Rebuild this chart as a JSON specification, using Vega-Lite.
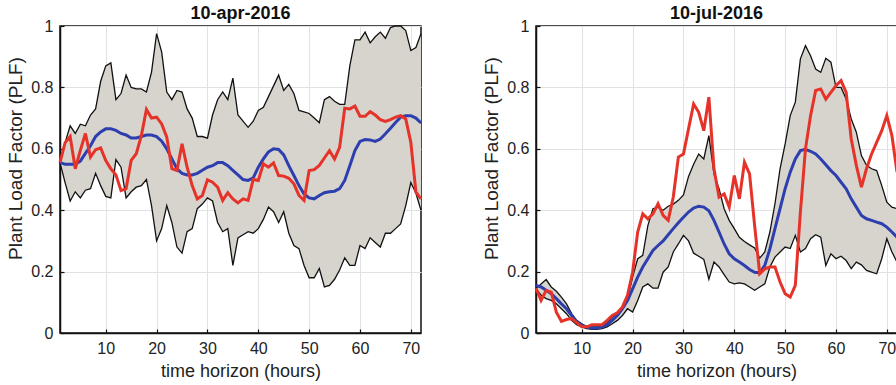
{
  "$schema": "https://vega.github.io/schema/vega-lite/v6.json",
  "padding": {"left": 6, "top": 4, "right": 0, "bottom": 0},
  "bounds": "flush",
  "spacing": 115,
  "config": {
    "font": "Liberation Sans",
    "view": {"stroke": "#111", "strokeWidth": 1.5},
    "axis": {
      "labelFont": "Liberation Sans", "labelFontSize": 16, "labelColor": "#222",
      "titleFont": "Liberation Sans", "titleFontSize": 18, "titleFontWeight": "normal", "titleColor": "#222",
      "gridColor": "#e2e2e2", "gridWidth": 1, "domainColor": "#111", "domainWidth": 1.5,
      "ticks": true, "tickSize": -4, "tickColor": "#111", "tickWidth": 1.2, "labelPadding": 11
    },
    "axisY": {"titleFontSize": 19, "titleY": 132},
    "title": {"font": "Liberation Sans", "fontSize": 18, "fontWeight": "bold", "color": "#111", "offset": -5}
  },
  "datasets": {
    "apr": [
      {"h":1,"lo":0.555,"hi":0.555,"mean":0.555,"act":0.555},
      {"h":2,"lo":0.49,"hi":0.62,"mean":0.55,"act":0.62},
      {"h":3,"lo":0.43,"hi":0.675,"mean":0.55,"act":0.64},
      {"h":4,"lo":0.46,"hi":0.65,"mean":0.55,"act":0.535},
      {"h":5,"lo":0.44,"hi":0.68,"mean":0.56,"act":0.595},
      {"h":6,"lo":0.465,"hi":0.675,"mean":0.585,"act":0.65},
      {"h":7,"lo":0.47,"hi":0.71,"mean":0.61,"act":0.573},
      {"h":8,"lo":0.52,"hi":0.73,"mean":0.64,"act":0.597},
      {"h":9,"lo":0.48,"hi":0.82,"mean":0.655,"act":0.603},
      {"h":10,"lo":0.445,"hi":0.87,"mean":0.665,"act":0.562},
      {"h":11,"lo":0.44,"hi":0.88,"mean":0.665,"act":0.535},
      {"h":12,"lo":0.565,"hi":0.76,"mean":0.66,"act":0.515},
      {"h":13,"lo":0.54,"hi":0.78,"mean":0.65,"act":0.464},
      {"h":14,"lo":0.44,"hi":0.84,"mean":0.645,"act":0.47},
      {"h":15,"lo":0.46,"hi":0.80,"mean":0.635,"act":0.562},
      {"h":16,"lo":0.475,"hi":0.795,"mean":0.635,"act":0.584},
      {"h":17,"lo":0.48,"hi":0.795,"mean":0.64,"act":0.643},
      {"h":18,"lo":0.50,"hi":0.785,"mean":0.645,"act":0.728},
      {"h":19,"lo":0.415,"hi":0.85,"mean":0.645,"act":0.70},
      {"h":20,"lo":0.30,"hi":0.975,"mean":0.64,"act":0.703},
      {"h":21,"lo":0.34,"hi":0.915,"mean":0.625,"act":0.681},
      {"h":22,"lo":0.415,"hi":0.785,"mean":0.60,"act":0.638},
      {"h":23,"lo":0.36,"hi":0.76,"mean":0.567,"act":0.535},
      {"h":24,"lo":0.28,"hi":0.79,"mean":0.535,"act":0.529},
      {"h":25,"lo":0.26,"hi":0.785,"mean":0.52,"act":0.616},
      {"h":26,"lo":0.33,"hi":0.73,"mean":0.515,"act":0.54},
      {"h":27,"lo":0.34,"hi":0.70,"mean":0.515,"act":0.48},
      {"h":28,"lo":0.405,"hi":0.64,"mean":0.52,"act":0.437},
      {"h":29,"lo":0.42,"hi":0.64,"mean":0.53,"act":0.448},
      {"h":30,"lo":0.44,"hi":0.635,"mean":0.54,"act":0.499},
      {"h":31,"lo":0.43,"hi":0.71,"mean":0.545,"act":0.491},
      {"h":32,"lo":0.36,"hi":0.76,"mean":0.555,"act":0.475},
      {"h":33,"lo":0.33,"hi":0.785,"mean":0.555,"act":0.432},
      {"h":34,"lo":0.34,"hi":0.76,"mean":0.545,"act":0.457},
      {"h":35,"lo":0.22,"hi":0.83,"mean":0.53,"act":0.437},
      {"h":36,"lo":0.31,"hi":0.71,"mean":0.515,"act":0.424},
      {"h":37,"lo":0.32,"hi":0.69,"mean":0.50,"act":0.437},
      {"h":38,"lo":0.33,"hi":0.67,"mean":0.497,"act":0.432},
      {"h":39,"lo":0.325,"hi":0.69,"mean":0.505,"act":0.50},
      {"h":40,"lo":0.34,"hi":0.725,"mean":0.54,"act":0.497},
      {"h":41,"lo":0.37,"hi":0.735,"mean":0.567,"act":0.551},
      {"h":42,"lo":0.41,"hi":0.77,"mean":0.59,"act":0.54},
      {"h":43,"lo":0.395,"hi":0.805,"mean":0.60,"act":0.554},
      {"h":44,"lo":0.36,"hi":0.84,"mean":0.598,"act":0.513},
      {"h":45,"lo":0.395,"hi":0.79,"mean":0.58,"act":0.511},
      {"h":46,"lo":0.325,"hi":0.81,"mean":0.545,"act":0.504},
      {"h":47,"lo":0.285,"hi":0.78,"mean":0.513,"act":0.486},
      {"h":48,"lo":0.275,"hi":0.725,"mean":0.48,"act":0.448},
      {"h":49,"lo":0.22,"hi":0.72,"mean":0.453,"act":0.432},
      {"h":50,"lo":0.18,"hi":0.715,"mean":0.44,"act":0.529},
      {"h":51,"lo":0.18,"hi":0.70,"mean":0.437,"act":0.532},
      {"h":52,"lo":0.21,"hi":0.685,"mean":0.448,"act":0.546},
      {"h":53,"lo":0.15,"hi":0.76,"mean":0.457,"act":0.57},
      {"h":54,"lo":0.155,"hi":0.77,"mean":0.46,"act":0.594},
      {"h":55,"lo":0.175,"hi":0.755,"mean":0.462,"act":0.567},
      {"h":56,"lo":0.205,"hi":0.745,"mean":0.47,"act":0.605},
      {"h":57,"lo":0.245,"hi":0.745,"mean":0.497,"act":0.732},
      {"h":58,"lo":0.22,"hi":0.87,"mean":0.545,"act":0.73},
      {"h":59,"lo":0.22,"hi":0.955,"mean":0.594,"act":0.739},
      {"h":60,"lo":0.285,"hi":0.955,"mean":0.624,"act":0.706},
      {"h":61,"lo":0.275,"hi":0.98,"mean":0.63,"act":0.706},
      {"h":62,"lo":0.31,"hi":0.945,"mean":0.629,"act":0.721},
      {"h":63,"lo":0.295,"hi":0.965,"mean":0.624,"act":0.71},
      {"h":64,"lo":0.28,"hi":0.98,"mean":0.632,"act":0.695},
      {"h":65,"lo":0.325,"hi":0.96,"mean":0.649,"act":0.689},
      {"h":66,"lo":0.325,"hi":0.995,"mean":0.667,"act":0.695},
      {"h":67,"lo":0.34,"hi":1.0,"mean":0.686,"act":0.703},
      {"h":68,"lo":0.355,"hi":1.0,"mean":0.703,"act":0.708},
      {"h":69,"lo":0.415,"hi":0.985,"mean":0.708,"act":0.697},
      {"h":70,"lo":0.49,"hi":0.92,"mean":0.708,"act":0.621},
      {"h":71,"lo":0.455,"hi":0.93,"mean":0.70,"act":0.459},
      {"h":72,"lo":0.40,"hi":0.975,"mean":0.684,"act":0.437}
    ],
    "jul": [
      {"h":1,"lo":0.144,"hi":0.144,"mean":0.155,"act":0.146},
      {"h":2,"lo":0.123,"hi":0.16,"mean":0.15,"act":0.106},
      {"h":3,"lo":0.112,"hi":0.174,"mean":0.139,"act":0.139},
      {"h":4,"lo":0.106,"hi":0.15,"mean":0.128,"act":0.133},
      {"h":5,"lo":0.095,"hi":0.136,"mean":0.112,"act":0.068},
      {"h":6,"lo":0.079,"hi":0.117,"mean":0.095,"act":0.038},
      {"h":7,"lo":0.063,"hi":0.095,"mean":0.079,"act":0.044},
      {"h":8,"lo":0.041,"hi":0.063,"mean":0.057,"act":0.047},
      {"h":9,"lo":0.027,"hi":0.041,"mean":0.036,"act":0.034},
      {"h":10,"lo":0.02,"hi":0.03,"mean":0.025,"act":0.02},
      {"h":11,"lo":0.014,"hi":0.02,"mean":0.02,"act":0.02},
      {"h":12,"lo":0.012,"hi":0.02,"mean":0.016,"act":0.027},
      {"h":13,"lo":0.012,"hi":0.02,"mean":0.016,"act":0.027},
      {"h":14,"lo":0.014,"hi":0.023,"mean":0.02,"act":0.027},
      {"h":15,"lo":0.02,"hi":0.034,"mean":0.027,"act":0.041},
      {"h":16,"lo":0.03,"hi":0.052,"mean":0.041,"act":0.057},
      {"h":17,"lo":0.041,"hi":0.063,"mean":0.057,"act":0.066},
      {"h":18,"lo":0.057,"hi":0.079,"mean":0.079,"act":0.085},
      {"h":19,"lo":0.079,"hi":0.112,"mean":0.106,"act":0.123},
      {"h":20,"lo":0.068,"hi":0.182,"mean":0.144,"act":0.198},
      {"h":21,"lo":0.106,"hi":0.242,"mean":0.182,"act":0.329},
      {"h":22,"lo":0.15,"hi":0.253,"mean":0.215,"act":0.388},
      {"h":23,"lo":0.16,"hi":0.35,"mean":0.242,"act":0.372},
      {"h":24,"lo":0.146,"hi":0.405,"mean":0.269,"act":0.388},
      {"h":25,"lo":0.146,"hi":0.41,"mean":0.285,"act":0.421},
      {"h":26,"lo":0.198,"hi":0.40,"mean":0.30,"act":0.383},
      {"h":27,"lo":0.215,"hi":0.413,"mean":0.32,"act":0.367},
      {"h":28,"lo":0.264,"hi":0.42,"mean":0.34,"act":0.443},
      {"h":29,"lo":0.29,"hi":0.432,"mean":0.359,"act":0.573},
      {"h":30,"lo":0.318,"hi":0.45,"mean":0.377,"act":0.583},
      {"h":31,"lo":0.30,"hi":0.51,"mean":0.394,"act":0.665},
      {"h":32,"lo":0.26,"hi":0.55,"mean":0.407,"act":0.746},
      {"h":33,"lo":0.25,"hi":0.583,"mean":0.413,"act":0.719},
      {"h":34,"lo":0.24,"hi":0.567,"mean":0.41,"act":0.659},
      {"h":35,"lo":0.175,"hi":0.643,"mean":0.398,"act":0.768},
      {"h":36,"lo":0.231,"hi":0.518,"mean":0.367,"act":0.535},
      {"h":37,"lo":0.215,"hi":0.47,"mean":0.329,"act":0.443},
      {"h":38,"lo":0.19,"hi":0.405,"mean":0.29,"act":0.453},
      {"h":39,"lo":0.166,"hi":0.367,"mean":0.258,"act":0.41},
      {"h":40,"lo":0.16,"hi":0.34,"mean":0.242,"act":0.513},
      {"h":41,"lo":0.163,"hi":0.312,"mean":0.231,"act":0.437},
      {"h":42,"lo":0.16,"hi":0.298,"mean":0.22,"act":0.556},
      {"h":43,"lo":0.15,"hi":0.287,"mean":0.207,"act":0.518},
      {"h":44,"lo":0.139,"hi":0.277,"mean":0.198,"act":0.35},
      {"h":45,"lo":0.15,"hi":0.244,"mean":0.196,"act":0.193},
      {"h":46,"lo":0.16,"hi":0.264,"mean":0.22,"act":0.209},
      {"h":47,"lo":0.215,"hi":0.329,"mean":0.274,"act":0.215},
      {"h":48,"lo":0.247,"hi":0.421,"mean":0.34,"act":0.215},
      {"h":49,"lo":0.264,"hi":0.535,"mean":0.405,"act":0.166},
      {"h":50,"lo":0.28,"hi":0.616,"mean":0.47,"act":0.128},
      {"h":51,"lo":0.275,"hi":0.708,"mean":0.524,"act":0.117},
      {"h":52,"lo":0.318,"hi":0.752,"mean":0.567,"act":0.155},
      {"h":53,"lo":0.264,"hi":0.893,"mean":0.594,"act":0.394},
      {"h":54,"lo":0.275,"hi":0.936,"mean":0.598,"act":0.60},
      {"h":55,"lo":0.307,"hi":0.903,"mean":0.592,"act":0.708},
      {"h":56,"lo":0.32,"hi":0.86,"mean":0.583,"act":0.79},
      {"h":57,"lo":0.312,"hi":0.849,"mean":0.567,"act":0.795},
      {"h":58,"lo":0.22,"hi":0.895,"mean":0.548,"act":0.762},
      {"h":59,"lo":0.258,"hi":0.882,"mean":0.529,"act":0.784},
      {"h":60,"lo":0.242,"hi":0.80,"mean":0.513,"act":0.806},
      {"h":61,"lo":0.25,"hi":0.80,"mean":0.491,"act":0.822},
      {"h":62,"lo":0.236,"hi":0.762,"mean":0.47,"act":0.784},
      {"h":63,"lo":0.21,"hi":0.697,"mean":0.437,"act":0.632},
      {"h":64,"lo":0.231,"hi":0.654,"mean":0.41,"act":0.546},
      {"h":65,"lo":0.222,"hi":0.578,"mean":0.383,"act":0.475},
      {"h":66,"lo":0.204,"hi":0.546,"mean":0.372,"act":0.535},
      {"h":67,"lo":0.198,"hi":0.535,"mean":0.367,"act":0.583},
      {"h":68,"lo":0.193,"hi":0.529,"mean":0.361,"act":0.621},
      {"h":69,"lo":0.242,"hi":0.48,"mean":0.356,"act":0.659},
      {"h":70,"lo":0.307,"hi":0.426,"mean":0.345,"act":0.708},
      {"h":71,"lo":0.264,"hi":0.41,"mean":0.329,"act":0.643},
      {"h":72,"lo":0.231,"hi":0.405,"mean":0.312,"act":0.524}
    ]
  },
  "hconcat": [
    {
      "title": "10-apr-2016",
      "width": 361, "height": 307,
      "data": {"name": "apr"},
      "encoding": {
        "x": {"field": "h", "type": "quantitative", "title": "time horizon (hours)",
              "scale": {"domain": [1, 72], "nice": false, "zero": false},
              "axis": {"values": [10, 20, 30, 40, 50, 60, 70], "titlePadding": 6}}
      },
      "layer": [
        {"mark": {"type": "area", "color": "#d7d4ce", "opacity": 1},
         "encoding": {"y": {"field": "lo", "type": "quantitative", "title": "Plant Load Factor (PLF)",
                            "scale": {"domain": [0, 1], "nice": false},
                            "axis": {"values": [0, 0.2, 0.4, 0.6, 0.8, 1], "format": "~g", "titlePadding": 5}},
                      "y2": {"field": "hi"}}},
        {"mark": {"type": "line", "color": "#111", "strokeWidth": 1.3}, "encoding": {"y": {"field": "hi", "type": "quantitative"}}},
        {"mark": {"type": "line", "color": "#111", "strokeWidth": 1.3}, "encoding": {"y": {"field": "lo", "type": "quantitative"}}},
        {"mark": {"type": "line", "color": "#2d3fae", "strokeWidth": 3}, "encoding": {"y": {"field": "mean", "type": "quantitative"}}},
        {"mark": {"type": "line", "color": "#e6332a", "strokeWidth": 3}, "encoding": {"y": {"field": "act", "type": "quantitative"}}}
      ]
    },
    {
      "title": "10-jul-2016",
      "width": 361, "height": 307,
      "data": {"name": "jul"},
      "encoding": {
        "x": {"field": "h", "type": "quantitative", "title": "time horizon (hours)",
              "scale": {"domain": [1, 72], "nice": false, "zero": false},
              "axis": {"values": [10, 20, 30, 40, 50, 60, 70], "titlePadding": 6}}
      },
      "layer": [
        {"mark": {"type": "area", "color": "#d7d4ce", "opacity": 1},
         "encoding": {"y": {"field": "lo", "type": "quantitative", "title": "Plant Load Factor (PLF)",
                            "scale": {"domain": [0, 1], "nice": false},
                            "axis": {"values": [0, 0.2, 0.4, 0.6, 0.8, 1], "format": "~g", "titlePadding": 5}},
                      "y2": {"field": "hi"}}},
        {"mark": {"type": "line", "color": "#111", "strokeWidth": 1.3}, "encoding": {"y": {"field": "hi", "type": "quantitative"}}},
        {"mark": {"type": "line", "color": "#111", "strokeWidth": 1.3}, "encoding": {"y": {"field": "lo", "type": "quantitative"}}},
        {"mark": {"type": "line", "color": "#2d3fae", "strokeWidth": 3}, "encoding": {"y": {"field": "mean", "type": "quantitative"}}},
        {"mark": {"type": "line", "color": "#e6332a", "strokeWidth": 3}, "encoding": {"y": {"field": "act", "type": "quantitative"}}}
      ]
    }
  ]
}
